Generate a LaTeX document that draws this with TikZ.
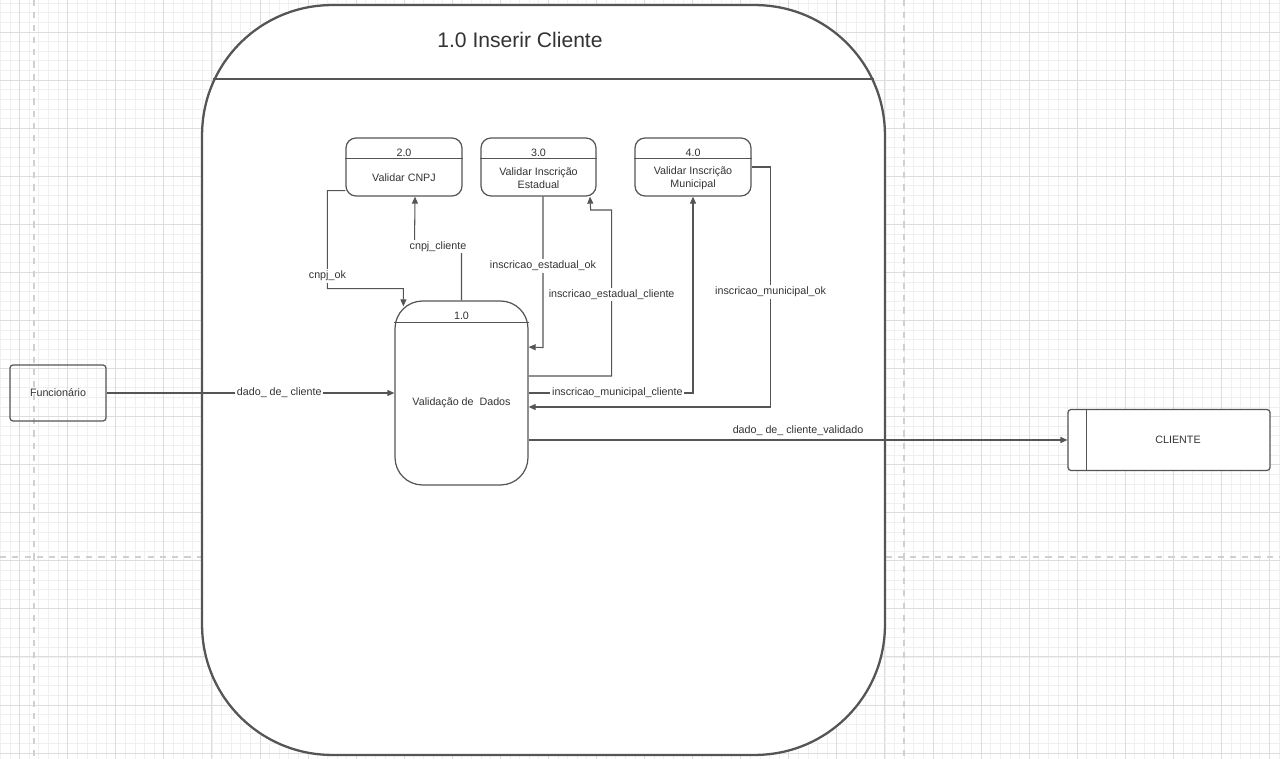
\documentclass[tikz,border=0pt]{standalone}
\usepackage{fontspec}
\setmainfont{Liberation Sans}
\usetikzlibrary{arrows.meta, calc}

\definecolor{linha}{HTML}{555555}
\definecolor{texto}{HTML}{333333}
\definecolor{gridfino}{HTML}{F0F0F0}
\definecolor{gridgrosso}{HTML}{DDDDDD}
\definecolor{pagina}{HTML}{D0D0D0}

\begin{document}
\begin{tikzpicture}[x=0.02cm, y=-0.02cm,
  gridfine/.style={gridfino, line width=0.4pt},
  gridmajor/.style={gridgrosso, line width=0.5pt},
  pagebreak/.style={pagina, line width=1.2pt, dash pattern=on 3.5pt off 3.5pt},
  container/.style={draw=linha, line width=1.3pt, fill=white, rounded corners=2.6cm,
    minimum width=13.66cm, minimum height=15cm, inner sep=0pt},
  proc/.style={draw=linha, line width=0.7pt, fill=white, rounded corners=0.2cm,
    minimum width=2.32cm, minimum height=1.16cm, inner sep=0pt},
  ext/.style={draw=linha, line width=0.7pt, rounded corners=0.06cm, inner sep=0pt},
  txt/.style={text=texto, font=\fontsize{6.1}{7.4}\selectfont, inner sep=0.5pt, align=center},
  lbl/.style={txt, fill=white, inner sep=1pt},
  flow/.style={draw=linha, line width=0.6pt, -{Triangle[length=4pt, width=3.4pt]}},
  plain/.style={draw=linha, line width=0.6pt}]
\useasboundingbox (0,0) rectangle (1280,759);
\fill[white] (0,0) rectangle (1280,759);
% background grid
\foreach \i in {0,...,133} \draw[gridfine] ({0.37+9.614*\i},0) -- ++(0,759);
\foreach \j in {0,...,78} \draw[gridfine] (0,{3.16+9.614*\j}) -- ++(1280,0);
\foreach \i in {0,...,26} \draw[gridmajor] ({19.6+48.07*\i},0) -- ++(0,759);
\foreach \j in {0,...,15} \draw[gridmajor] (0,{32+48.07*\j}) -- ++(1280,0);
\draw[pagebreak] (34,0) -- (34,759);
\draw[pagebreak] (904,0) -- (904,759);
\draw[pagebreak] (0,557) -- (1280,557);
%
\node[container] (inserir) at (543.5,380) {};
\draw[linha, line width=1.3pt] ($(inserir.north west)+(12.2,75)$) -- ($(inserir.north east)+(-12.2,75)$);
\node[text=texto, font=\fontsize{12}{14}\selectfont] (titulo) at ($(inserir.north)+(-23.5,36)$) {1.0 Inserir Cliente};
% processes
\node[proc, minimum width=2.66cm, minimum height=3.68cm, rounded corners=0.55cm] (p1) at (461.5,393) {};
\node[proc] (p2) at (404,167) {};
\node[proc, minimum width=2.30cm] (p3) at (538.5,167) {};
\node[proc] (p4) at (693,167) {};
\draw[linha, line width=0.7pt] ($(p1.north west)+(0,22)$) -- ($(p1.north east)+(0,22)$);
\foreach \p in {p2,p3,p4}
  \draw[linha, line width=0.7pt] ($(\p.north west)+(0,21)$) -- ($(\p.north east)+(0,21)$);
\node[txt] (p1n) at ($(p1.north)+(0,15)$) {1.0};
\node[txt] (p1t) at ($(p1.south)+(0,-83)$) {Validação de~ Dados};
\node[txt] (p2n) at ($(p2.north)+(0,15)$) {2.0};
\node[txt] (p2t) at ($(p2.south)+(0,-18.5)$) {Validar CNPJ};
\node[txt] (p3n) at ($(p3.north)+(0,15)$) {3.0};
\node[txt] (p3t) at ($(p3.south)+(0,-18.5)$) {Validar Inscrição\\Estadual};
\node[txt] (p4n) at ($(p4.north)+(0,15)$) {4.0};
\node[txt] (p4t) at ($(p4.south)+(0,-18.5)$) {Validar Inscrição\\Municipal};
% external entities
\node[ext, minimum width=1.92cm, minimum height=1.12cm] (funcionario) at (58,393) {};
\node[txt] (funcionariot) at (funcionario.center) {Funcionário};
\node[ext, fill=white, minimum width=4.04cm, minimum height=1.22cm] (cliente) at (1169,440) {};
\draw[linha, line width=1pt] ($(cliente.north west)+(19,0)$) -- ($(cliente.south west)+(19,0)$);
\node[txt] (clientet) at ($(cliente.center)+(9,0)$) {CLIENTE};
% flows
\draw[flow] (funcionario.east) -- node[lbl, pos=0.6] {dado\_ de\_ cliente} (p1.west);
\draw[flow] ($(p2.south west)+(0,-6)$) -- ++(-18,0) -- node[lbl, pos=0.87] {cnpj\_ok} ++(0,98)
  -- ++(76,0) -- ($(p1.north west)+(9,6)$);
\draw[flow] (p1.north) -- ++(0,-54) -- node[lbl] {cnpj\_cliente} ++(-47,0) -- ($(p2.south)+(11,0)$);
\draw[flow] ($(p3.south)+(4.5,0)$) -- node[lbl, pos=0.46] {inscricao\_estadual\_ok} ++(0,151)
  -- ($(p1.east)+(0,-46)$);
\draw[flow] ($(p1.east)+(0,-17)$) -- ++(83,0) -- node[lbl, pos=0.49] {inscricao\_estadual\_cliente} ++(0,-166)
  -- ++(-21,0) -- ($(p3.south)+(51.5,0)$);
\draw[flow] (p1.east) -- node[lbl, pos=0.54] {inscricao\_municipal\_cliente} (p4.south |- p1.east) -- (p4.south);
\draw[flow] (p4.east) -- ++(19,0) -- node[lbl, pos=0.52] {inscricao\_municipal\_ok} ++(0,240)
  -- ($(p1.east)+(0,14)$);
\draw[flow] ($(p1.east)+(0,47)$) -- node[txt, above=1.5pt] {dado\_ de\_ cliente\_validado} (cliente.west);
\end{tikzpicture}
\end{document}
